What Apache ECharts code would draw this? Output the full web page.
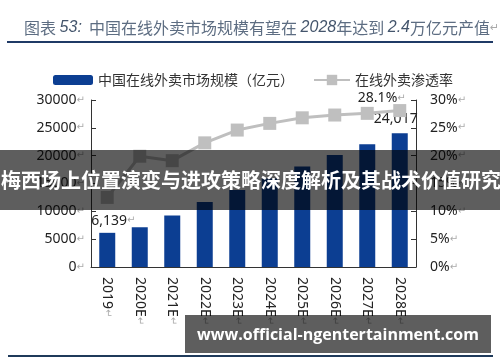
<!DOCTYPE html>
<html><head><meta charset="utf-8">
<script src="https://cdn.jsdelivr.net/npm/echarts@6/dist/echarts.min.js"></script>
<style>html,body{margin:0;padding:0;background:#fff}#c{width:500px;height:362px}</style>
</head><body><div id="c"></div>
<script>
var categories = ['2019','2020E','2021E','2022E','2023E','2024E','2025E','2026E','2027E','2028E'];
var marketSize = [6139, 7140, 9230, 11690, 13850, 15900, 18040, 20140, 22070, 24017];
var penetration = [12.5, 19.9, 19.1, 22.3, 24.6, 25.8, 26.8, 27.3, 27.6, 28.1];
var leftTicks = [0, 5000, 10000, 15000, 20000, 25000, 30000];
var rightTicks = [0, 5, 10, 15, 20, 25, 30];
var barName = '中国在线外卖市场规模（亿元）';
var lineName = '在线外卖渗透率';
var titleText = '中国在线外卖市场规模有望在';
var bannerText = '梅西场上位置演变与进攻策略深度解析及其战术价值研究';
var siteText = 'www.official-ngentertainment.com';

var CJK = '"Noto Sans CJK SC", "Noto Sans", sans-serif';
var markRich = {m: {color: '#aaa', fontSize: 10, fontFamily: 'DejaVu Sans'}};
var chart = echarts.init(document.getElementById('c'), null, {renderer: 'canvas'});

var barData = marketSize.map(function (v, i) {
  if (i === 0) return {value: v, label: {show: true, formatter: function(p){return echarts.format.addCommas(p.value) + '{m|↵}';}, offset: [6, 0]}};
  if (i === marketSize.length - 1) return {value: v, label: {show: true, formatter: function(p){return echarts.format.addCommas(p.value);}, offset: [-4, -2]}};
  return v;
});
var lineData = penetration.map(function (v, i) {
  if (i === penetration.length - 1) return {value: v, label: {show: true, formatter: function(p){return p.value.toFixed(1) + '%{m|↵}';}, offset: [-18, 6]}};
  return v;
});

chart.setOption({
  animation: false,
  title: {
    text: '{n|图表 }{i|53:}{n|  ' + titleText + ' }{i|2028}{n|年达到 }{i|2.4}{n|万亿元产值}{m|↵}',
    left: 19, top: 15,
    textStyle: {
      fontWeight: 'normal',
      rich: {
        n: {fontSize: 16, color: '#5d6d82', fontFamily: CJK, fontWeight: 'normal'},
        i: {fontSize: 16, color: '#44556c', fontStyle: 'italic', fontFamily: 'Liberation Sans', fontWeight: 'normal'},
        m: {fontSize: 11, color: '#aaa', fontFamily: 'DejaVu Sans', fontWeight: 'normal'}
      }
    }
  },
  legend: [
    {data: [barName], left: 48, top: 68, itemWidth: 40, itemHeight: 10,
     textStyle: {fontSize: 14, color: '#333', fontFamily: CJK}},
    {data: [lineName], left: 308, top: 68, itemWidth: 36, itemHeight: 13,
     textStyle: {fontSize: 14, color: '#333', fontFamily: CJK}}
  ],
  grid: {left: 91, right: 84, top: 100, bottom: 95},
  xAxis: {
    type: 'category', data: categories,
    axisLine: {lineStyle: {color: '#333', width: 1}},
    axisTick: {inside: true, length: 4, lineStyle: {color: '#333'}},
    axisLabel: {rotate: -90, margin: 10, fontSize: 14, color: '#222', fontFamily: 'Noto Sans',
      formatter: function (v) { return v + '{m|↵}'; }, rich: markRich}
  },
  yAxis: [
    {type: 'value', min: 0, max: 30000, interval: 5000,
     axisLine: {show: true, lineStyle: {color: '#333'}},
     axisTick: {show: true, inside: true, length: 5, lineStyle: {color: '#333'}},
     splitLine: {show: false},
     axisLabel: {margin: 6, fontSize: 14, color: '#222', fontFamily: 'Noto Sans',
       formatter: function (v) { return v + '{m|↵}'; }, rich: markRich}},
    {type: 'value', min: 0, max: 30, interval: 5,
     axisLine: {show: true, lineStyle: {color: '#333'}},
     axisTick: {show: true, inside: true, length: 5, lineStyle: {color: '#333'}},
     splitLine: {show: false},
     axisLabel: {margin: 14, fontSize: 14, color: '#222', fontFamily: 'Noto Sans',
       formatter: function (v) { return v + '%{m|↵}'; }, rich: markRich}}
  ],
  series: [
    {name: barName, type: 'bar', data: barData, barWidth: 16,
     itemStyle: {color: '#0c3e92'},
     label: {show: false, position: 'top', fontSize: 14, color: '#222', fontFamily: 'Noto Sans', rich: markRich}},
    {name: lineName, type: 'line', yAxisIndex: 1, data: lineData,
     symbol: 'rect', symbolSize: 13,
     lineStyle: {color: '#bfbfbf', width: 3},
     itemStyle: {color: '#bfbfbf'},
     label: {show: false, position: 'top', fontSize: 14, color: '#222', fontFamily: 'Noto Sans', rich: markRich}}
  ],
  graphic: [
    {type: 'line', shape: {x1: 7, y1: 42, x2: 493, y2: 42}, style: {stroke: '#1f3a66', lineWidth: 2}},
    {type: 'line', shape: {x1: 8, y1: 356, x2: 493, y2: 356}, style: {stroke: '#1f3a5a', lineWidth: 2}},
    {type: 'rect', shape: {x: 0, y: 150, width: 500, height: 60}, style: {fill: 'rgba(0,0,0,0.63)'}, z: 100},
    {type: 'text', x: 1, y: 180, z: 101,
     style: {text: bannerText, fill: '#fff', font: 'bold 20px "Noto Sans CJK SC"', textAlign: 'left', textVerticalAlign: 'middle'}},
    {type: 'rect', shape: {x: 185, y: 315, width: 306, height: 38}, style: {fill: 'rgba(0,0,0,0.63)'}, z: 100},
    {type: 'text', x: 338, y: 335, z: 101,
     style: {text: siteText, fill: '#fff', font: 'bold 16px "Open Sans"', textAlign: 'center', textVerticalAlign: 'middle'}}
  ]
});
</script></body></html>
